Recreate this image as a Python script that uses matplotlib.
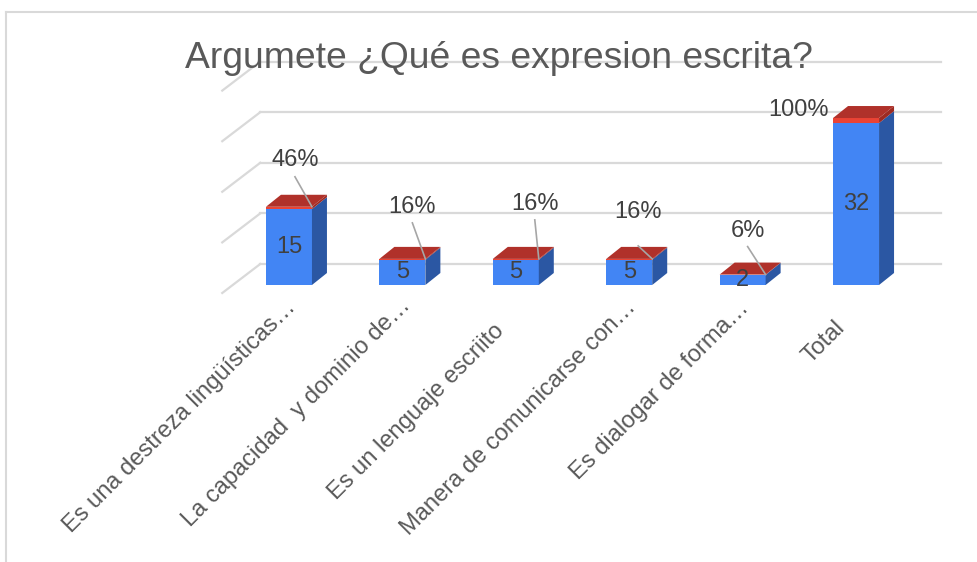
import matplotlib.pyplot as plt
from matplotlib.patches import Polygon
from matplotlib.lines import Line2D

# --- datos ---
categories = [
    "Es una destreza lingüísticas…",
    "La capacidad  y dominio de…",
    "Es un lenguaje escriito",
    "Manera de comunicarse con…",
    "Es dialogar de forma…",
    "Total",
]
counts = [15, 5, 5, 5, 2, 32]
shares = [0.46, 0.16, 0.16, 0.16, 0.06, 1.00]
grid_vals = [0, 10, 20, 30, 40]
title = "Argumete ¿Qué es expresion escrita?"

# posiciones de etiquetas (px, relativas a la esquina superior derecha de la barra)
pct_dx = [-17, -13, -4, -14, -18, -81]
pct_dy = [47, 52, 55, 47, 44, 8]
leader_gap = [17, 16, 16, 34, 16, None]
# desplazamiento de etiquetas del eje x (px)
lab_dx = [8, 9, -11, 8, 7, -10]
lab_dy = [23, 22, 47, 23, 24, 44]

plt.rcParams["font.family"] = ["Liberation Sans", "DejaVu Sans"]

W, H, DPI = 978, 562, 100
fig = plt.figure(figsize=(W / DPI, H / DPI), dpi=DPI)
ax = fig.add_axes([232.25 / W, 277 / H, 680.5 / W, 202.4 / H])
ax.set_xlim(-0.5, 5.5)
ax.set_ylim(0, 40)
ax.axis("off")

px_x = ax.bbox.width / 6.0
px_y = ax.bbox.height / 40.0


def ox(p):
    return p / px_x


def oy(p):
    return p / px_y


grid_c = "#D9D9D9"
for v in grid_vals:
    ax.plot([-0.5 + ox(28), 5.5 + ox(28)], [v + oy(21)] * 2, color=grid_c,
            lw=1.6, clip_on=False, zorder=0)
    ax.plot([-0.5 - ox(10), -0.5 + ox(28)], [v - oy(8), v + oy(21)],
            color=grid_c, lw=1.6, clip_on=False, zorder=0)

half = ox(23)
dx, dy = ox(15), oy(12)


def block(x0, x1, y0, y1, front, side, top=None):
    ax.add_patch(Polygon([(x0, y0), (x1, y0), (x1, y1), (x0, y1)],
                         closed=True, fc=front, ec="none", zorder=3, clip_on=False))
    ax.add_patch(Polygon([(x1, y0), (x1 + dx, y0 + dy), (x1 + dx, y1 + dy), (x1, y1)],
                         closed=True, fc=side, ec="none", zorder=3, clip_on=False))
    if top is not None:
        ax.add_patch(Polygon([(x0, y1), (x1, y1), (x1 + dx, y1 + dy), (x0 + dx, y1 + dy)],
                             closed=True, fc=top, ec="none", zorder=3, clip_on=False))


for i, (c, s) in enumerate(zip(counts, shares)):
    x0, x1 = i - half, i + half
    block(x0, x1, 0, c, "#4285F4", "#2B57A3")
    block(x0, x1, c, c + s, "#EA4335", "#9E2A22", "#B0312A")

    ax.text(i, c / 2, str(c), ha="center", va="center", fontsize=17,
            color="#404040", zorder=5)

    ax_x, ax_y = x1, c + s
    lx, ly = ax_x + ox(pct_dx[i]), ax_y + oy(pct_dy[i])
    ax.text(lx, ly, f"{s:.0%}", ha="center", va="center", fontsize=17,
            color="#404040", zorder=5)
    if leader_gap[i] is not None:
        ax.plot([lx, ax_x], [ly - oy(leader_gap[i]), ax_y], color="#A6A6A6",
                lw=1.2, zorder=4, clip_on=False)

    ax.text(i + ox(lab_dx[i]), -oy(lab_dy[i]), categories[i], rotation=45,
            rotation_mode="anchor", ha="right", va="baseline", fontsize=17,
            color="#595959", clip_on=False)

fig.text(185 / W, 1 - 68 / H, title, ha="left", va="baseline", fontsize=26.8,
         color="#595959", zorder=10)

# borde del gráfico
fig.add_artist(Line2D([6 / W, 6 / W], [0, 1 - 12 / H], transform=fig.transFigure,
                      color=grid_c, lw=1.5))
fig.add_artist(Line2D([6 / W, 1], [1 - 12 / H, 1 - 12 / H], transform=fig.transFigure,
                      color=grid_c, lw=1.5))

fig.savefig("out.png", dpi=DPI)
plt.close(fig)
